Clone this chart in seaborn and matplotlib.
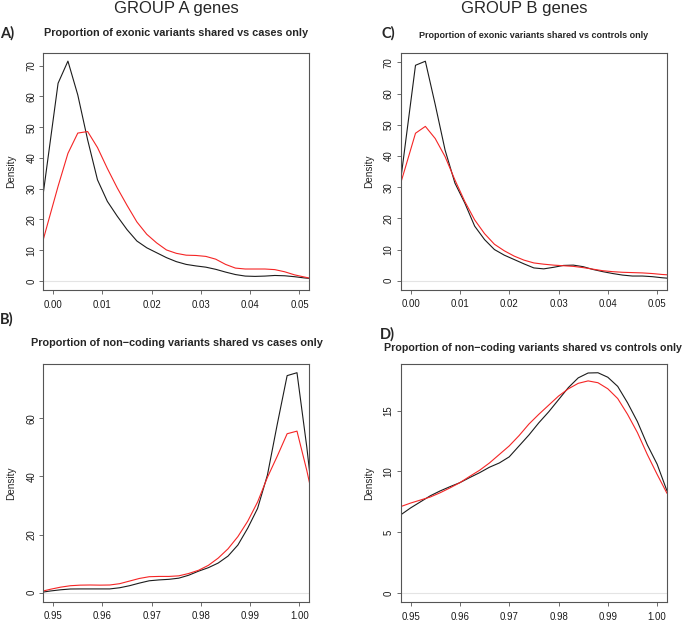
import numpy as np
import pandas as pd
import matplotlib.pyplot as plt
import seaborn as sns

# density curves (black = first group, red = second group)
x_exonic = [-0.003, -0.001, 0.001, 0.003, 0.005, 0.007, 0.009, 0.011, 0.013, 0.015,
            0.017, 0.019, 0.021, 0.023, 0.025, 0.027, 0.029, 0.031, 0.033, 0.035,
            0.037, 0.039, 0.041, 0.043, 0.045, 0.047, 0.049, 0.051, 0.053]
a_black = [16.7, 40.5, 64.3, 71.5, 60.5, 45.9, 32.9, 25.9, 21.1, 16.7,
           13.0, 10.8, 9.2, 7.6, 6.3, 5.4, 4.9, 4.5, 3.8, 2.9,
           2.1, 1.6, 1.5, 1.6, 1.8, 1.7, 1.4, 1.0, 0.7]
a_red = [7.7, 19.3, 30.8, 41.5, 48.1, 48.6, 43.4, 36.6, 30.3, 24.6,
         19.2, 15.2, 12.4, 10.1, 9.0, 8.4, 8.3, 8.0, 7.1, 5.4,
         4.2, 3.9, 3.9, 3.9, 3.7, 3.0, 2.0, 1.3, 0.6]
c_black = [20.0, 44.6, 69.1, 70.4, 56.5, 41.9, 31.3, 24.9, 17.5, 13.2,
           10.0, 8.2, 6.8, 5.4, 4.1, 3.8, 4.3, 4.9, 5.0, 4.5,
           3.6, 2.9, 2.3, 1.8, 1.5, 1.5, 1.3, 0.95, 0.7]
c_red = [26.0, 36.6, 47.3, 49.5, 45.6, 39.8, 32.3, 25.4, 19.5, 15.1,
         11.7, 9.6, 7.9, 6.6, 5.7, 5.3, 5.0, 4.8, 4.6, 4.2,
         3.7, 3.2, 2.9, 2.7, 2.6, 2.5, 2.3, 2.0, 1.8]

x_noncoding_b = [0.9475, 0.9495, 0.9515, 0.9535, 0.9555, 0.9575, 0.9595, 0.9615, 0.9635, 0.9655,
                 0.9675, 0.9695, 0.9715, 0.9735, 0.9755, 0.9775, 0.9795, 0.9815, 0.9835, 0.9855,
                 0.9875, 0.9895, 0.9915, 0.9935, 0.9955, 0.9975, 0.9995, 1.0015, 1.0035]
b_black = [0.1, 0.6, 1.0, 1.27, 1.3, 1.3, 1.3, 1.3, 1.7, 2.4,
           3.3, 4.1, 4.4, 4.6, 5.0, 6.0, 7.4, 8.6, 10.2, 12.6,
           16.4, 22.2, 29.0, 40.5, 58.0, 74.7, 75.7, 50.0, 20.0]
b_red = [0.4, 1.2, 1.9, 2.4, 2.6, 2.65, 2.6, 2.65, 3.1, 4.0,
         4.9, 5.5, 5.6, 5.6, 5.8, 6.6, 7.7, 9.4, 11.9, 15.1,
         19.3, 24.6, 31.2, 39.7, 47.0, 54.7, 55.6, 42.0, 26.5]

x_noncoding_d = [0.948, 0.950, 0.952, 0.954, 0.956, 0.958, 0.960, 0.962, 0.964, 0.966,
                 0.968, 0.970, 0.972, 0.974, 0.976, 0.978, 0.980, 0.982, 0.984, 0.986,
                 0.988, 0.990, 0.992, 0.994, 0.996, 0.998, 1.000, 1.002]
d_black = [6.43, 7.0, 7.5, 8.0, 8.4, 8.75, 9.08, 9.5, 9.9, 10.35,
           10.7, 11.2, 12.1, 13.0, 14.0, 14.9, 15.9, 16.9, 17.7, 18.1,
           18.12, 17.75, 17.0, 15.65, 14.1, 12.2, 10.6, 8.4]
d_red = [7.11, 7.4, 7.65, 7.9, 8.25, 8.65, 9.08, 9.6, 10.1, 10.7,
         11.4, 12.1, 12.95, 13.9, 14.7, 15.45, 16.2, 16.8, 17.25, 17.45,
         17.3, 16.8, 16.0, 14.7, 13.2, 11.4, 9.76, 8.2]

exonic_ticks = [0.00, 0.01, 0.02, 0.03, 0.04, 0.05]
noncoding_ticks = [0.95, 0.96, 0.97, 0.98, 0.99, 1.00]

sns.set_style("ticks")
plt.rcParams["font.family"] = ["Liberation Sans", "DejaVu Sans"]

W, H = 685, 620
fig = plt.figure(figsize=(W / 100, H / 100), dpi=100)


def panel(left, top, right, bottom):
    return fig.add_axes([left / W, 1 - bottom / H, (right - left) / W, (bottom - top) / H])


def draw(ax, x, black, red, xlim, ylim, xticks, yticks, fmt):
    ax.axhline(0, color="#e4e4e4", lw=0.8, zorder=0)
    sns.lineplot(x=x, y=black, color="#1c1c1c", lw=0.8, ax=ax, sort=False)
    sns.lineplot(x=x, y=red, color="#f52525", lw=0.8, ax=ax, sort=False)
    ax.set_xlim(xlim)
    ax.set_ylim(ylim)
    ax.set_xticks(xticks)
    ax.set_xticklabels([fmt.format(t) for t in xticks])
    ax.set_yticks(yticks)
    ax.set_yticklabels([str(t) for t in yticks], rotation=90, va="center")
    for s in ax.spines.values():
        s.set_visible(True)
        s.set_color("#555555")
        s.set_linewidth(0.8)
    ax.tick_params(length=3, width=0.6, color="#555555", labelsize=6.9,
                   labelcolor="#1a1a1a", pad=2)
    ax.tick_params(axis="x", pad=4)
    ax.set_xlabel("")
    ax.set_ylabel("")


ax_a = panel(43.3, 52.5, 309.3, 289.8)
draw(ax_a, x_exonic, a_black, a_red, (-0.002, 0.052), (-2.86, 74.3),
     exonic_ticks, [0, 10, 20, 30, 40, 50, 60, 70], "{:.2f}")
ax_c = panel(400.7, 52.5, 667, 289.5)
draw(ax_c, x_exonic, c_black, c_red, (-0.002, 0.052), (-2.82, 73.2),
     exonic_ticks, [0, 10, 20, 30, 40, 50, 60, 70], "{:.2f}")
ax_b = panel(43.3, 364, 309.3, 601.5)
draw(ax_b, x_noncoding_b, b_black, b_red, (0.948, 1.002), (-3.03, 78.7),
     noncoding_ticks, [0, 20, 40, 60], "{:.2f}")
ax_d = panel(400.7, 364, 667, 601.8)
draw(ax_d, x_noncoding_d, d_black, d_red, (0.948, 1.002), (-0.72, 18.84),
     noncoding_ticks, [0, 5, 10, 15], "{:.2f}")


def ftext(x, y, s, **kw):
    fig.text(x / W, 1 - y / H, s, **kw)


ftext(176, 8.5, "GROUP A genes", ha="center", va="center", fontsize=12)
ftext(524, 8.5, "GROUP B genes", ha="center", va="center", fontsize=12)

ftext(176, 33.5, "Proportion of exonic variants shared vs cases only",
      ha="center", va="center", fontsize=7.8, fontweight="bold")
ftext(533.5, 35, "Proportion of exonic variants shared vs controls only",
      ha="center", va="center", fontsize=6.5, fontweight="bold")
ftext(177, 343.5, "Proportion of non\u2212coding variants shared vs cases only",
      ha="center", va="center", fontsize=7.8, fontweight="bold")
ftext(533, 348, "Proportion of non\u2212coding variants shared vs controls only",
      ha="center", va="center", fontsize=7.7, fontweight="bold")

for x, y, s in [(0, 33.5, "A)"), (381, 33.5, "C)"), (0, 319.5, "B)"), (380, 334.5, "D)")]:
    ftext(x, y, s, ha="left", va="center", fontsize=10.5, fontweight="bold",
          family=["Lato", "DejaVu Sans"])

for x, y in [(11.5, 171), (369, 171), (11.5, 483), (369, 483)]:
    ftext(x, y, "Density", ha="center", va="center", rotation=90, fontsize=7.2)

fig.savefig("out.png", dpi=100)
